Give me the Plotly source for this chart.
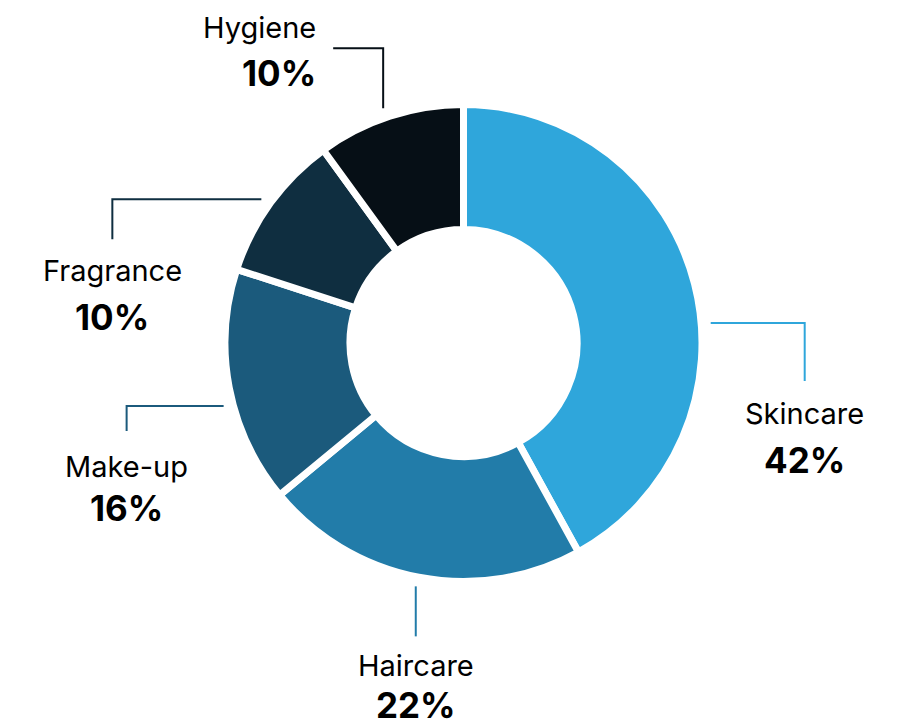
import math
import plotly.graph_objects as go

# ---- data ----
categories = ["Skincare", "Haircare", "Make-up", "Fragrance", "Hygiene"]
shares = [42, 22, 16, 10, 10]
pct_labels = ["42%", "22%", "16%", "10%", "10%"]

# ---- styling / layout config ----
colors = ["#2fa6db", "#227ca9", "#1b5a7c", "#0f2e40", "#060f16"]
W, H = 905, 725
CX, CY = 463.5, 343.0        # pie centre (px)
R_OUT = 238.5                # pie radius (px)
HOLE = 0.476
R_LEAD = 248.0               # where leader lines start (px from centre)
# per-label angle tweak (deg) and leader path moves (px)
lead_cfg = {
    "Skincare":  dict(dang=9.8,  moves=[(94, 0), (0, 58)],   name=(0, 32), val=(0, 79), anchor="center"),
    "Haircare":  dict(dang=0.3,  moves=[(0, 50)],            name=(0, 29), val=(0, 69), anchor="center"),
    "Make-up":   dict(dang=-3.9, moves=[(-97, 0), (0, 25)],  name=(0, 36), val=(0, 77), anchor="center"),
    "Fragrance": dict(dang=-0.6, moves=[(-149, 0), (0, 40)], name=(0, 31), val=(0, 78), anchor="center"),
    "Hygiene":   dict(dang=-0.9, moves=[(0, -60), (-50, 0)], name=(-15, -21), val=(-15, 25), anchor="right"),
}
FONT = "Inter, Liberation Sans, Arial, sans-serif"


def px2paper(x, y):
    return x / W, 1 - y / H


fig = go.Figure()
x0, y0 = px2paper(CX - R_OUT, CY + R_OUT)
x1, y1 = px2paper(CX + R_OUT, CY - R_OUT)
fig.add_trace(go.Pie(
    labels=categories, values=shares, sort=False, direction="clockwise",
    rotation=0, hole=HOLE, textinfo="none", hoverinfo="label+percent",
    marker=dict(colors=colors, line=dict(color="white", width=7)),
    domain=dict(x=[x0, x1], y=[y0, y1]), showlegend=False,
))

total = sum(shares)
cum = 0
shapes, annotations = [], []
for cat, v, pl, col in zip(categories, shares, pct_labels, colors):
    mid = (cum + v / 2) / total * 360
    cum += v
    cfg = lead_cfg[cat]
    th = math.radians(mid + cfg["dang"])
    px = CX + R_LEAD * math.sin(th)
    py = CY - R_LEAD * math.cos(th)
    pts = [(px, py)]
    for dx, dy in cfg["moves"]:
        px, py = px + dx, py + dy
        pts.append((px, py))
    path = ""
    for i, (a, b) in enumerate(pts):
        u, w = px2paper(a, b)
        path += ("M" if i == 0 else " L") + f" {u:.5f},{w:.5f}"
    shapes.append(dict(type="path", path=path, xref="paper", yref="paper",
                       line=dict(color=col, width=2)))
    ex, ey = pts[-1]
    nx, ny = px2paper(ex + cfg["name"][0], ey + cfg["name"][1])
    vx, vy = px2paper(ex + cfg["val"][0], ey + cfg["val"][1])
    xa = cfg["anchor"]
    annotations.append(dict(x=nx, y=ny, xref="paper", yref="paper", text=cat,
                            showarrow=False, xanchor=xa, yanchor="middle",
                            font=dict(family=FONT, size=29, color="#000")))
    annotations.append(dict(x=vx, y=vy, xref="paper", yref="paper", text=f"<b>{pl}</b>",
                            showarrow=False, xanchor=xa, yanchor="middle",
                            font=dict(family=FONT, size=35, color="#000")))

fig.update_layout(width=W, height=H, margin=dict(l=0, r=0, t=0, b=0),
                  paper_bgcolor="white", plot_bgcolor="white",
                  shapes=shapes, annotations=annotations)
fig.write_html("out.html", config={"displayModeBar": False},
               post_script="document.body.style.margin='0px';")
